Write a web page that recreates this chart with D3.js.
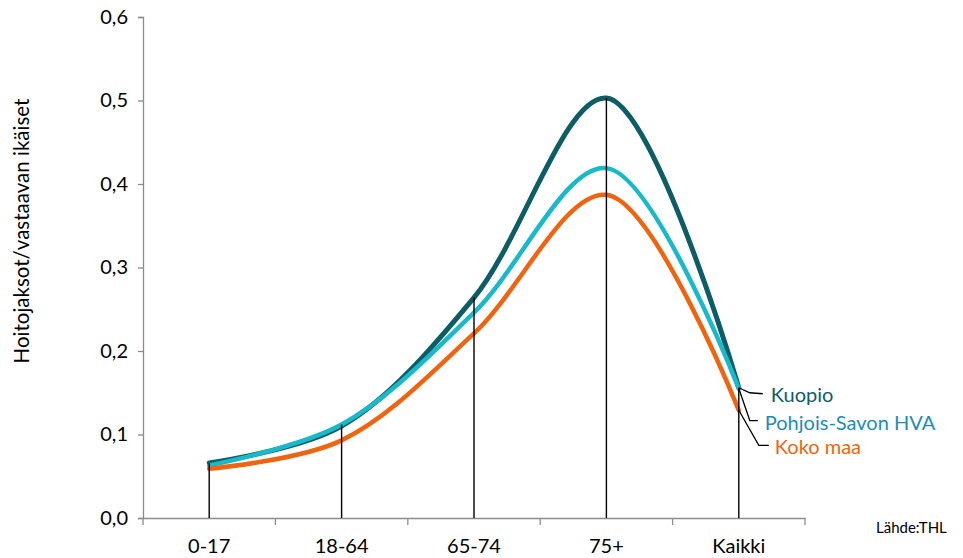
<!DOCTYPE html>
<html><head><meta charset="utf-8">
<script src="https://cdn.jsdelivr.net/npm/d3@7"></script>
<style>body{margin:0;background:#fff}svg{display:block}text{font-family:Lato,"Open Sans",sans-serif}</style>
</head><body><svg id="c" width="963" height="558"></svg>
<script>
const categories = ["0-17","18-64","65-74","75+","Kaikki"];
const kuopio = [0.066,0.110,0.264,0.503,0.156];
const pohjoisSavo = [0.063,0.112,0.246,0.419,0.155];
const kokoMaa = [0.059,0.093,0.221,0.387,0.129];
const yTicks = [0,0.1,0.2,0.3,0.4,0.5,0.6];
const seriesNames = ["Kuopio","Pohjois-Savon HVA","Koko maa"];

const svg = d3.select("#c");
const x = d3.scaleBand().domain(categories).range([143,805]);
const y = d3.scaleLinear().domain([0,0.6]).range([518,17]);
const cx = c => x(c) + x.bandwidth()/2;

// y axis
const ya = svg.append("g").attr("transform","translate(143,0)")
  .call(d3.axisLeft(y).tickValues(yTicks).tickSize(5).tickFormat(d => d3.format(".1f")(d).replace(".",",")));
ya.select(".domain").attr("stroke","#8c8c8c").attr("stroke-width",1.3);
ya.selectAll(".tick line").attr("stroke","#8c8c8c").attr("stroke-width",1.3);
ya.selectAll(".tick text").attr("font-size",20).attr("fill","#000").attr("x",-15);

// x axis
const xa = svg.append("g").attr("transform","translate(0,518)")
  .call(d3.axisBottom(x).tickSize(0).tickSizeOuter(0));
xa.select(".domain").attr("stroke","#8c8c8c").attr("stroke-width",1.3);
xa.selectAll(".tick text").attr("font-size",20).attr("fill","#000").attr("dy","1.62em");
const bounds = categories.map(c => x(c)).concat([x(categories[categories.length-1]) + x.bandwidth()]);
svg.append("g").selectAll("line").data(bounds).join("line")
  .attr("x1",d=>d).attr("x2",d=>d).attr("y1",518).attr("y2",525)
  .attr("stroke","#8c8c8c").attr("stroke-width",1.3);

// axis title
svg.append("text").attr("transform","translate(29,231) rotate(-90)")
  .attr("text-anchor","middle").attr("font-size",20.5).attr("fill","#000")
  .text("Hoitojaksot/vastaavan ikäiset");

const line = d3.line().x((d,i)=>cx(categories[i])).y(d=>y(d)).curve(d3.curveCatmullRom.alpha(0.5));
const series = [
  {v:kuopio, color:"#0d5d66", w:5},
  {v:pohjoisSavo, color:"#18b9c9", w:4.5},
  {v:kokoMaa, color:"#f0640f", w:4.5}
];
series.forEach(s => {
  svg.append("path").datum(s.v).attr("d",line).attr("fill","none")
    .attr("stroke",s.color).attr("stroke-width",s.w).attr("stroke-linecap","round");
});

// drop lines
const maxVals = categories.map((c,i)=>Math.max(kuopio[i],pohjoisSavo[i],kokoMaa[i]));
svg.append("g").selectAll("line").data(categories).join("line")
  .attr("x1",c=>cx(c)).attr("x2",c=>cx(c))
  .attr("y1",(c,i)=>y(maxVals[i])).attr("y2",518)
  .attr("stroke","#000").attr("stroke-width",1.4);

// labels with leader lines
const last = categories.length-1, lx = cx(categories[last]);
const labels = [
  {name:seriesNames[0], v:kuopio[last], color:"#0d5d66", pts:[[11,5],[24,6]], tx:32, ty:402},
  {name:seriesNames[1], v:pohjoisSavo[last], color:"#1a8dbb", pts:[[11,32],[19,32]], tx:26, ty:430},
  {name:seriesNames[2], v:kokoMaa[last], color:"#f0640f", pts:[[20,35],[30,35]], tx:36, ty:454}
];
labels.forEach(l => {
  const y0 = y(l.v);
  const p = [[lx,y0]].concat(l.pts.map(q=>[lx+q[0], y0+q[1]]));
  svg.append("path").attr("d",d3.line()(p)).attr("fill","none").attr("stroke","#000").attr("stroke-width",1.3);
  svg.append("text").attr("x",lx+l.tx).attr("y",l.ty).attr("font-size",20).attr("fill",l.color).text(l.name);
});

svg.append("text").attr("x",876).attr("y",533).attr("font-size",15).attr("fill","#000").text("Lähde:THL");
</script></body></html>
